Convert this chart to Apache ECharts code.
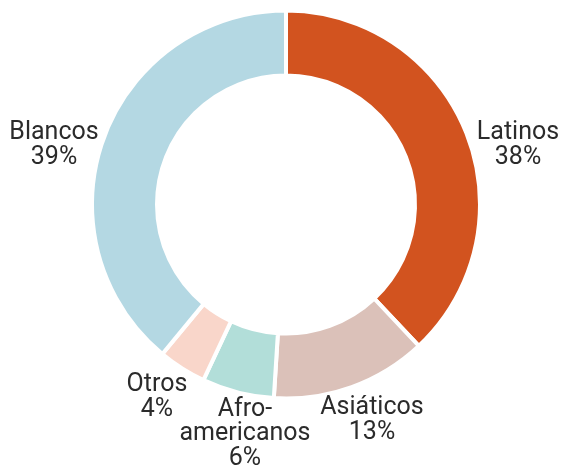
<!DOCTYPE html>
<html>
<head>
    <meta charset="utf-8">
    <title></title>
    <style type="text/css">
        html, body { margin: 0; padding: 0; background: #fff; }
        #main { width: 561px; height: 472px; }
    </style>
</head>
<body>
<div id="main"></div>

<script type="text/javascript" src="https://cdn.jsdelivr.net/npm/echarts@6/dist/echarts.min.js"></script>
<script type="text/javascript">
    // datos
    var categorias = ['Latinos', 'Asiáticos', 'Afro-\namericanos', 'Otros', 'Blancos'];
    var valores = [38, 13, 6, 4, 39];
    var colores = ['#D2531F', '#DBC1B9', '#B2DED9', '#F9D6CA', '#B4D8E3'];

    // centro de cada etiqueta (x, y)
    var posEtiquetas = [[518, 145], [372, 420], [245, 434], [157, 397], [54, 145]];

    var myChart = echarts.init(document.getElementById('main'));

    var datos = categorias.map(function(c, i) {
        return { name: c, value: valores[i], itemStyle: { color: colores[i] } };
    });

    myChart.setOption({
        animation: false,
        series: [{
            type: 'pie',
            center: [286, 204.5],
            radius: [129, 194],
            startAngle: 90,
            clockwise: true,
            avoidLabelOverlap: false,
            itemStyle: {
                borderColor: '#fff',
                borderWidth: 4
            },
            label: {
                show: true,
                position: 'outside',
                formatter: '{b}\n{c}%',
                fontFamily: 'Roboto',
                fontSize: 25,
                lineHeight: 24.5,
                color: '#2b2b2b',
                align: 'center'
            },
            labelLine: { show: false },
            labelLayout: function(params) {
                var p = posEtiquetas[params.dataIndex];
                return { x: p[0], y: p[1], align: 'center', verticalAlign: 'middle' };
            },
            emphasis: { disabled: true },
            data: datos
        }]
    });
</script>

</body>
</html>
